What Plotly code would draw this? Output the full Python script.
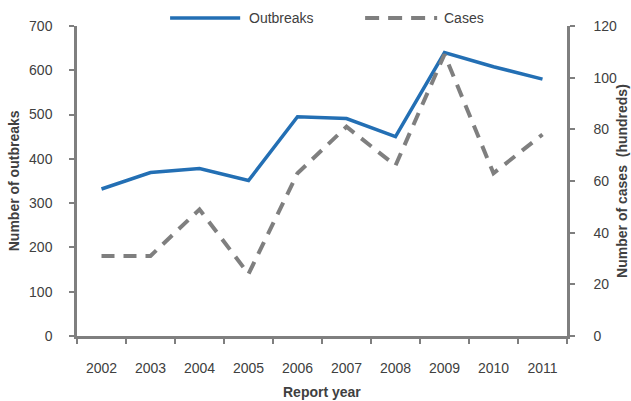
import plotly.graph_objects as go

years = ["2002", "2003", "2004", "2005", "2006", "2007", "2008", "2009", "2010", "2011"]
outbreaks = [332, 369, 378, 351, 495, 491, 450, 640, 608, 580]
cases_hundreds = [31, 31, 49, 24, 63, 81, 66, 109, 63, 78]

blue = "#236FB4"
grey = "#7F7F7F"
txt = "#404040"
font_family = "Liberation Sans, Arial, sans-serif"

fig = go.Figure()
fig.add_trace(go.Scatter(x=years, y=outbreaks, name="Outbreaks", mode="lines",
                         line=dict(color=blue, width=3.5), yaxis="y"))
fig.add_trace(go.Scatter(x=years, y=cases_hundreds, name="Cases", mode="lines",
                         line=dict(color=grey, width=4, dash="13px,9px"), yaxis="y2"))

axis_common = dict(showgrid=False, zeroline=False, showline=True, linecolor=grey, linewidth=2.5,
                   ticks="outside", ticklen=5, tickwidth=1.5, tickcolor=grey, automargin=False,
                   tickfont=dict(size=14, color=txt, family=font_family))

fig.update_layout(
    width=631, height=401,
    margin=dict(l=77, r=64, t=26, b=65, autoexpand=False),
    paper_bgcolor="white", plot_bgcolor="white",
    showlegend=False,
    font=dict(family=font_family, color=txt),
    xaxis=dict(**axis_common, type="category", tickson="boundaries", ticklabelstandoff=17,
               range=[-0.5, len(years) - 0.5]),
    yaxis=dict(**axis_common, range=[0, 700], dtick=100, ticklabelstandoff=14),
    yaxis2=dict(**axis_common, range=[0, 120], dtick=20, overlaying="y", side="right",
                ticklabelstandoff=16),
)

# axis titles
fig.add_annotation(xref="paper", yref="paper", x=0.5, y=-0.18, yanchor="middle",
                   text="<b>Report year</b>", showarrow=False, font=dict(size=14, color=txt))
fig.add_annotation(xref="paper", yref="paper", x=-0.128, y=0.5, xanchor="center", textangle=-90,
                   text="<b>Number of outbreaks</b>", showarrow=False, font=dict(size=14, color=txt))
fig.add_annotation(xref="paper", yref="paper", x=1.112, y=0.5, xanchor="center", textangle=-90,
                   text="<b>Number of cases  (hundreds)</b>", showarrow=False, font=dict(size=14, color=txt))

# legend drawn manually to match long legend lines
ly = 1.026
fig.add_shape(type="line", xref="paper", yref="paper", x0=0.190, x1=0.333, y0=ly, y1=ly,
              line=dict(color=blue, width=3.5))
fig.add_annotation(xref="paper", yref="paper", x=0.347, y=ly, text="Outbreaks", showarrow=False,
                   xanchor="left", yanchor="middle", font=dict(size=14, color=txt))
fig.add_shape(type="line", xref="paper", yref="paper", x0=0.588, x1=0.735, y0=ly, y1=ly,
              line=dict(color=grey, width=4, dash="14px,9px"))
fig.add_annotation(xref="paper", yref="paper", x=0.745, y=ly, text="Cases", showarrow=False,
                   xanchor="left", yanchor="middle", font=dict(size=14, color=txt))

fig.write_html("out.html", config={"displayModeBar": False},
               post_script="document.body.style.margin='0';")
